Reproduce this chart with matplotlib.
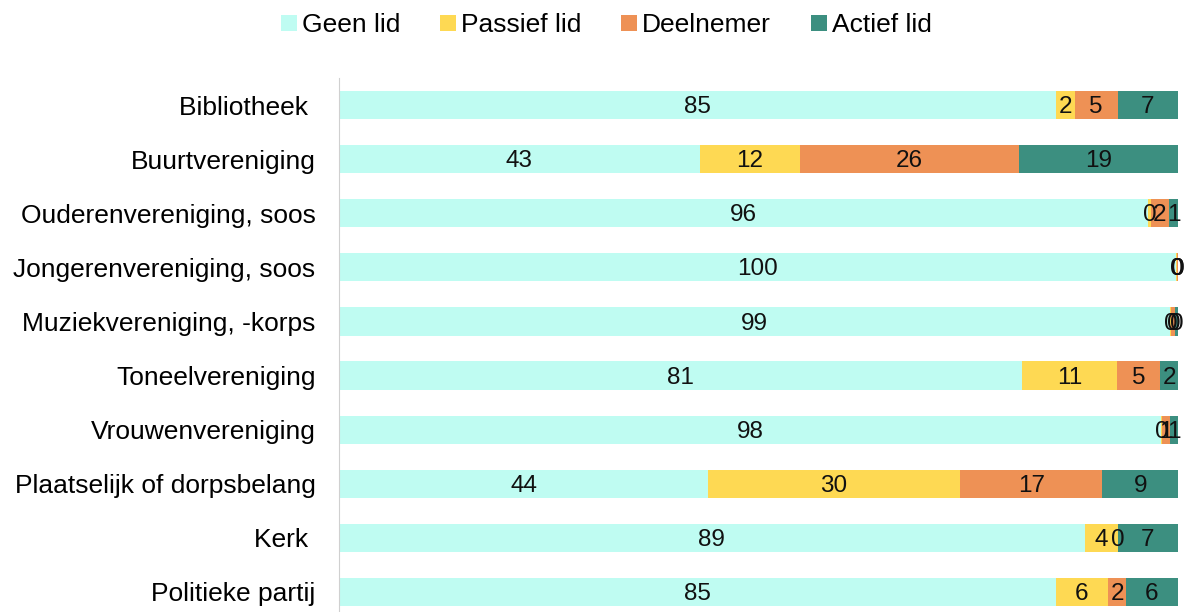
import numpy as np
import matplotlib
matplotlib.use('Agg')
import matplotlib.pyplot as plt

plt.rcParams['font.family'] = ['Liberation Sans', 'DejaVu Sans']

categories = ['Bibliotheek ', 'Buurtvereniging', 'Ouderenvereniging, soos',
              'Jongerenvereniging, soos', 'Muziekvereniging, -korps',
              'Toneelvereniging', 'Vrouwenvereniging',
              'Plaatselijk of dorpsbelang', 'Kerk ', 'Politieke partij']
series = ['Geen lid', 'Passief lid', 'Deelnemer', 'Actief lid']

geen_lid = [85.4, 43.0, 96.4, 99.8, 99.0, 81.4, 98.0, 44.0, 88.9, 85.4]
passief = [2.3, 12.0, 0.4, 0.1, 0.2, 11.3, 0.1, 30.0, 3.9, 6.3]
deelnemer = [5.1, 26.0, 2.1, 0.1, 0.49, 5.2, 0.9, 17.0, 0.0, 2.1]
actief = [7.2, 19.0, 1.1, 0.0, 0.3, 2.1, 1.0, 9.0, 7.2, 6.2]

colors = ['#BFFCF2', '#FED953', '#EE9155', '#3C8F80']

fig = plt.figure(figsize=(11.89, 6.12), dpi=100)
ax = fig.add_axes([339 / 1189, -7 / 612, 839 / 1189, 541 / 612])

y = np.arange(len(categories))
left = np.zeros(len(categories))
for name, vals, col in zip(series, [geen_lid, passief, deelnemer, actief], colors):
    vals = np.array(vals)
    bars = ax.barh(y, vals, left=left, height=0.52, color=col, label=name)
    anns = ax.bar_label(bars, labels=['%.0f' % v for v in vals], label_type='center',
                        fontsize=17.5, color='#111111')
    for a in anns:
        a.xyann = (0, -1.5)  # digits sit a bit high otherwise
    left += vals

ax.set_xlim(0, 100)
ax.set_ylim(len(categories) - 0.5, -0.5)
ax.set_yticks(y)
ax.set_yticklabels(categories, fontsize=19)
ax.tick_params(axis='y', length=0, pad=17)
ax.set_xticks([])
for s in ['top', 'right', 'bottom']:
    ax.spines[s].set_visible(False)
ax.spines['left'].set_color('#d0d0d0')

fig.legend(loc='upper center', bbox_to_anchor=(0.51, 1.017), ncol=4, frameon=False,
           fontsize=19, handlelength=0.6, handleheight=0.6, handletextpad=0.2,
           columnspacing=1.5)

fig.savefig('out.png', dpi=100)
